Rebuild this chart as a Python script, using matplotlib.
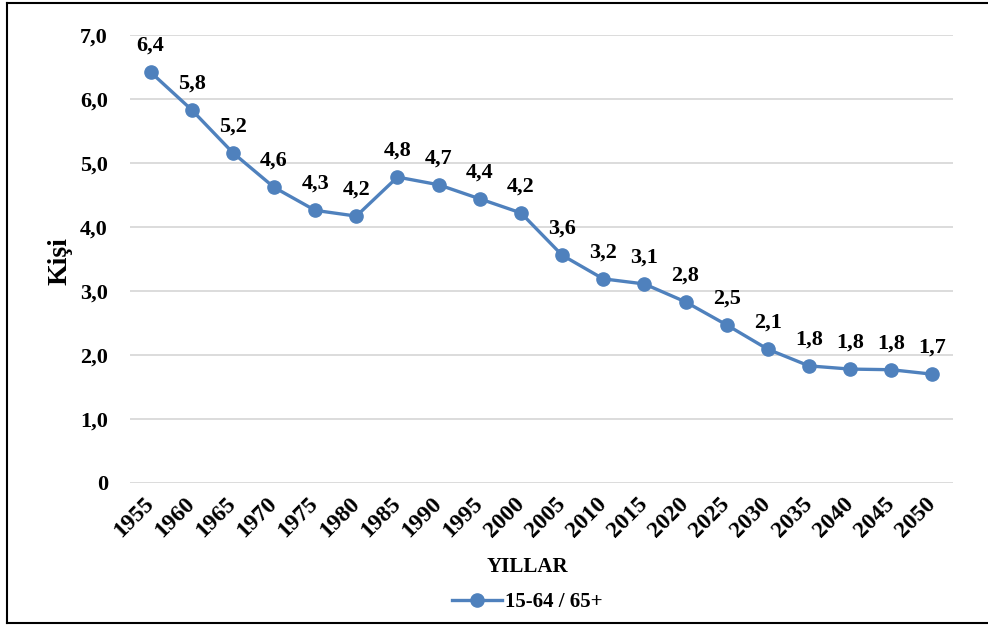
import matplotlib
matplotlib.use("Agg")
import matplotlib.pyplot as plt
from matplotlib.lines import Line2D

years = ["1955", "1960", "1965", "1970", "1975", "1980", "1985", "1990", "1995", "2000",
         "2005", "2010", "2015", "2020", "2025", "2030", "2035", "2040", "2045", "2050"]
ratio = [6.42, 5.83, 5.16, 4.62, 4.26, 4.17, 4.78, 4.66, 4.44, 4.22,
         3.56, 3.19, 3.11, 2.83, 2.47, 2.09, 1.83, 1.78, 1.77, 1.70]
yticks = [0, 1, 2, 3, 4, 5, 6, 7]
ytick_labels = ["0", "1,0", "2,0", "3,0", "4,0", "5,0", "6,0", "7,0"]
series_name = "15-64 / 65+"

plt.rcParams['font.family'] = ['Liberation Serif', 'DejaVu Serif']
plt.rcParams['font.weight'] = 'bold'

W, H = 988, 626
fig = plt.figure(figsize=(W / 100, H / 100), dpi=100)
ax = fig.add_axes([130 / W, 1 - 483 / H, (953 - 130) / W, (483 - 35) / H])

color = '#4F81BD'
x = list(range(len(years)))
ax.plot(x, ratio, color=color, lw=2.4, marker='o', markersize=9.5, zorder=3)

for xi, v in zip(x, ratio):
    ax.annotate(f"{v:.1f}".replace('.', ','), (xi, v), xytext=(0, 19),
                textcoords='offset points', ha='center', va='center',
                fontsize=16, fontweight='bold')

ax.set_xlim(-0.5, len(years) - 0.5)
ax.set_ylim(0, 7)
ax.set_yticks(yticks)
ax.set_yticklabels(ytick_labels, fontsize=16, fontweight='bold')
ax.set_xticks(x)
ax.set_xticklabels(years, rotation=45, ha='right', va='center', rotation_mode='anchor',
                   fontsize=17, fontweight='bold')
ax.tick_params(axis='both', length=0)
ax.tick_params(axis='x', pad=13)
ax.tick_params(axis='y', pad=16)
ax.grid(axis='y', color='#d9d9d9', lw=1.3)
ax.set_axisbelow(True)
for s in ax.spines.values():
    s.set_visible(False)

fig.text(60 / W, 1 - 261 / H, "Kişi", rotation=90, ha='center', va='center',
         fontsize=20, fontweight='bold')
fig.text(527 / W, 1 - 567 / H, "YILLAR", ha='center', va='center',
         fontsize=15, fontweight='bold')

handle = Line2D([], [], color=color, lw=2.4, marker='o', markersize=9.5)
fig.legend([handle], [series_name], loc='center', bbox_to_anchor=(527 / W, 1 - 602 / H),
           frameon=False, prop={'size': 15, 'weight': 'bold'}, handlelength=2.4,
           handletextpad=0.15)

# outer frame
fig.add_artist(Line2D([7 / W, 7 / W], [1 - 3 / H, 1 - 623 / H], transform=fig.transFigure, color='black', lw=1.5))
fig.add_artist(Line2D([7 / W, 1], [1 - 3 / H, 1 - 3 / H], transform=fig.transFigure, color='black', lw=1.5))
fig.add_artist(Line2D([7 / W, 1], [1 - 623 / H, 1 - 623 / H], transform=fig.transFigure, color='black', lw=1.5))

fig.savefig("out.png", dpi=100)
